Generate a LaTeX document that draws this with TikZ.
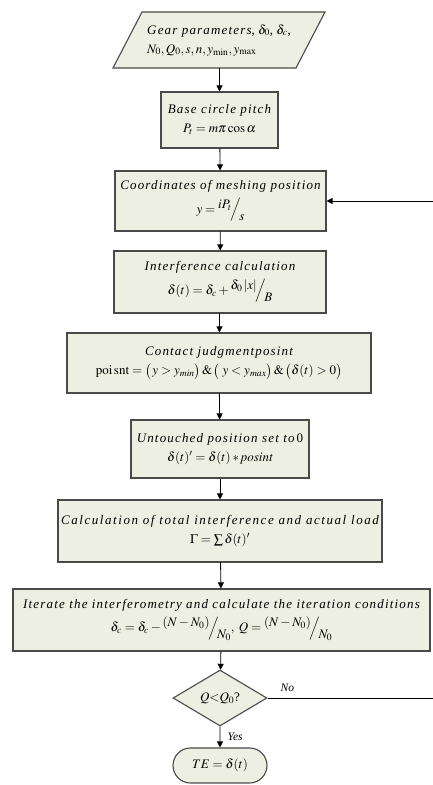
\documentclass[tikz,border=0pt]{standalone}
\usepackage{mathptmx}
\usepackage[no-math]{fontspec}
\setmainfont{Liberation Serif}
\usetikzlibrary{shapes.geometric,shapes.misc,arrows.meta}
\newfontfamily\ttlfont{Liberation Serif}[LetterSpace=9]
\newfontfamily\ttlwide{Liberation Serif}[LetterSpace=12]
\newcommand{\ttl}[1]{{\ttlfont\itshape #1}}
\newcommand{\ttw}[1]{{\ttlwide\itshape #1}}
\newcommand{\sfr}[2]{\raisebox{5pt}{$#1$}\!\Big/\!\raisebox{-7pt}{$#2$}}
\definecolor{boxfill}{HTML}{ECEFE1}
\definecolor{boxline}{HTML}{4A4A4A}
\tikzset{
  every node/.style={font=\fontsize{13}{16}\selectfont},
  procbox/.style={draw=boxline, line width=1.1pt, fill=boxfill, align=center, inner sep=1pt},
  parashape/.style={draw=boxline, line width=1.1pt, fill=boxfill},
  decbox/.style={draw=boxline, line width=1.1pt, fill=boxfill, diamond, aspect=1.68, inner sep=0pt},
  termbox/.style={draw=boxline, line width=1.1pt, fill=boxfill, rounded rectangle, inner sep=0pt},
  flow/.style={draw=black, line width=0.8pt, -{Triangle[length=6pt,width=6pt]}},
  plain/.style={draw=black, line width=0.8pt},
  lbl/.style={font=\fontsize{11.5}{13}\selectfont\itshape}
}
\begin{document}
\begin{tikzpicture}[x=1pt,y=-1pt]
\useasboundingbox (0,0) rectangle (433,785);
% parallelogram
\coordinate (ptl) at (142,12);
\coordinate (ptr) at (325,12);
\coordinate (pbr) at (296,68);
\coordinate (pbl) at (113,68);
\coordinate (gearbot) at (219.5,68);
\draw[parashape] (ptl) -- (ptr) -- (pbr) -- (pbl) -- cycle;
\node[align=left] (gear) at (219,40) {\ttl{Gear parameters}, $\delta_0$, $\delta_c$,\\[3pt] $N_0, Q_0, s, n, y_{\mathrm{min}}, y_{\mathrm{max}}$};
\node[procbox, minimum width=117, minimum height=56] (base) at (219.5,120) {\ttl{Base circle pitch}\\[3pt] $P_t = m\pi\cos\alpha$};
\node[procbox, minimum width=211, minimum height=60] (coord) at (220.5,201) {\ttl{Coordinates of meshing position}\\[5pt] $y=\sfr{iP_t}{s}$};
\node[procbox, minimum width=212, minimum height=62] (interf) at (220,282) {\ttl{Interference calculation}\\[5pt] $\delta(t)=\delta_c+\sfr{\delta_0\,|x|}{B}$};
\node[procbox, minimum width=304, minimum height=60] (contact) at (219,363) {\ttl{Contact judgmentposint}\\[3pt] $\mathrm{poi\,snt}=\bigl(\,y>y_{\mathit{min}}\bigr)\,\&\,\bigl(\;y<y_{\mathit{max}}\bigr)\,\&\,\bigl(\delta(t)>0\bigr)$};
\node[procbox, minimum width=178, minimum height=58] (untouch) at (220,449) {\ttl{Untouched position set to}\,0\\[3pt] $\delta(t)'=\delta(t)*\mathit{posint}$};
\node[procbox, minimum width=324, minimum height=62] (calc) at (220,531) {\ttw{Calculation of total interference and actual load}\\[3pt] $\Gamma=\sum\delta(t)'$};
\node[procbox, minimum width=417, minimum height=62] (iter) at (221.5,620) {\ttl{Iterate the interferometry and calculate the iteration conditions}\\[5pt] $\delta_c=\delta_c-\sfr{(N-N_0)}{N_0},\;Q=\sfr{(N-N_0)}{N_0}$};
\node[decbox, minimum width=94, minimum height=56] (dec) at (220,698) {$Q{<}Q_0$?};
\node[termbox, minimum width=94, minimum height=35] (term) at (220,765.5) {$TE=\delta(t)$};
\coordinate (noend) at (433,698);
\coordinate (backin) at (433,201);
\draw[flow] (gearbot) -- (base.north);
\draw[flow] (base) -- (coord);
\draw[flow] (coord) -- (interf);
\draw[flow] (interf) -- (contact);
\draw[flow] (contact) -- (untouch);
\draw[flow] (untouch) -- (calc);
\draw[flow] (calc) -- (iter);
\draw[flow] (iter) -- (dec);
\draw[flow] (dec) -- node[lbl, right, xshift=4pt] {Yes} (term);
\draw[plain] (dec.east) -- node[lbl, above, pos=0.12, yshift=3pt] {No} (noend);
\draw[flow] (backin) -- (coord.east);
\end{tikzpicture}
\end{document}
